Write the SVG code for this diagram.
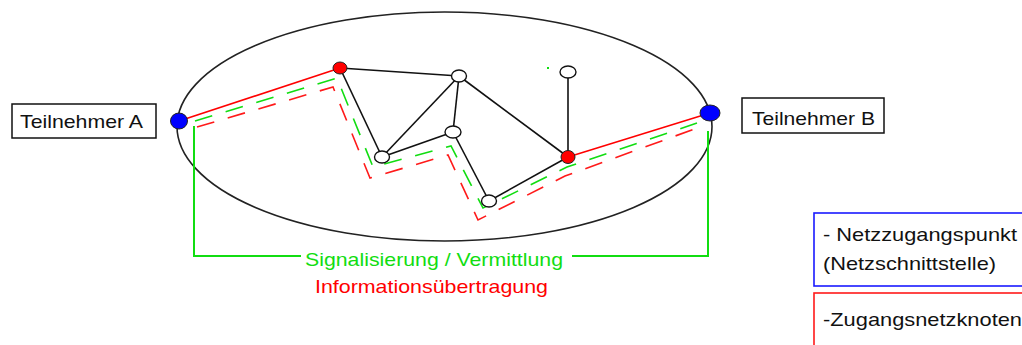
<svg xmlns="http://www.w3.org/2000/svg" width="1022" height="345" viewBox="0 0 1022 345">
  <style>
    .lbl { font-family: "Liberation Sans", Arial, sans-serif; font-size: 19px; fill: #111; }
    .edge { stroke: #111; stroke-width: 1.6; fill: none; }
    .wnode { fill: #fff; stroke: #111; stroke-width: 1.4; }
    .rnode { fill: #ff0000; stroke: #222; stroke-width: 1; }
    .bnode { fill: #0000ff; stroke: #222; stroke-width: 1; }
    .dashg { stroke: #11dd11; stroke-width: 1.6; fill: none; stroke-dasharray: 18 14; }
    .dashr { stroke: #ff1a1a; stroke-width: 1.6; fill: none; stroke-dasharray: 18 14; }
    .box { fill: #fff; stroke: #111; stroke-width: 1.5; }
  </style>
  <rect width="1022" height="345" fill="#fff"/>

  <g id="network-ellipse">
    <ellipse cx="444.5" cy="126.5" rx="267.5" ry="114.5" fill="none" stroke="#222" stroke-width="1.6"/>
  </g>

  <g id="connectors">
    <line class="edge" x1="340" y1="68" x2="459" y2="76"/>
    <line class="edge" x1="340" y1="68" x2="382" y2="157"/>
    <line class="edge" x1="459" y1="76" x2="382" y2="157"/>
    <line class="edge" x1="459" y1="76" x2="453" y2="132"/>
    <line class="edge" x1="459" y1="76" x2="568" y2="157"/>
    <line class="edge" x1="453" y1="132" x2="382" y2="157"/>
    <line class="edge" x1="453" y1="132" x2="489" y2="201"/>
    <line class="edge" x1="489" y1="201" x2="568" y2="157"/>
    <line class="edge" x1="568" y1="72" x2="568" y2="157"/>
    <line x1="179" y1="121" x2="340" y2="68" stroke="#ff0000" stroke-width="1.6"/>
    <line x1="568" y1="157" x2="710" y2="113" stroke="#ff0000" stroke-width="1.6"/>
    <polyline class="dashg" points="195,121 337,78 373,167 451,146 483,208 567,167 697,123"/>
    <polyline class="dashr" points="197,127 333,87 370,178 448,155 478,220 565,176 700,127"/>
    <polyline points="194,126 194,256 301,256" fill="none" stroke="#11dd11" stroke-width="2"/>
    <polyline points="572,256 708,256 708,131" fill="none" stroke="#11dd11" stroke-width="2"/>
  </g>

  <g id="node-A-access">
    <ellipse class="bnode" cx="179" cy="121" rx="8.5" ry="8"/>
  </g>
  <g id="node-B-access">
    <ellipse class="bnode" cx="710" cy="113" rx="10" ry="8"/>
  </g>
  <g id="node-red1">
    <ellipse class="rnode" cx="340" cy="68" rx="7" ry="6"/>
  </g>
  <g id="node-red2">
    <ellipse class="rnode" cx="568" cy="157" rx="7" ry="6.5"/>
  </g>
  <g id="node-top">
    <ellipse class="wnode" cx="459" cy="76" rx="7.5" ry="6"/>
  </g>
  <g id="node-topright">
    <ellipse class="wnode" cx="568" cy="72" rx="8" ry="6"/>
  </g>
  <g id="node-middle">
    <ellipse class="wnode" cx="453" cy="132" rx="8" ry="6"/>
  </g>
  <g id="node-leftlower">
    <ellipse class="wnode" cx="382" cy="157" rx="7.5" ry="6"/>
  </g>
  <g id="node-bottom">
    <ellipse class="wnode" cx="489" cy="201" rx="7.5" ry="6"/>
  </g>
  <rect x="547" y="67" width="2" height="2" fill="#11dd11"/>

  <g id="teilnehmer-A">
    <rect class="box" x="12" y="104" width="144" height="34"/>
    <text class="lbl" x="20" y="128" textLength="123" lengthAdjust="spacingAndGlyphs">Teilnehmer A</text>
  </g>
  <g id="teilnehmer-B">
    <rect class="box" x="742" y="98" width="142" height="35"/>
    <text class="lbl" x="752" y="125" textLength="123" lengthAdjust="spacingAndGlyphs">Teilnehmer B</text>
  </g>

  <g id="path-labels">
    <text class="lbl" x="305" y="266" textLength="258" lengthAdjust="spacingAndGlyphs" style="fill:#11dd11">Signalisierung / Vermittlung</text>
    <text class="lbl" x="315" y="293" textLength="233" lengthAdjust="spacingAndGlyphs" style="fill:#ff0000">Informationsübertragung</text>
  </g>

  <g id="legend-access-point">
    <rect x="814" y="213" width="220" height="73" fill="#fff" stroke="#1a1aff" stroke-width="1.6"/>
    <text class="lbl" x="823" y="241" textLength="194" lengthAdjust="spacingAndGlyphs">- Netzzugangspunkt</text>
    <text class="lbl" x="823" y="270" textLength="173" lengthAdjust="spacingAndGlyphs">(Netzschnittstelle)</text>
  </g>
  <g id="legend-access-node">
    <rect x="814" y="293" width="220" height="70" fill="#fff" stroke="#ff1a1a" stroke-width="1.6"/>
    <text class="lbl" x="823" y="326" textLength="199" lengthAdjust="spacingAndGlyphs">-Zugangsnetzknoten</text>
  </g>
</svg>
